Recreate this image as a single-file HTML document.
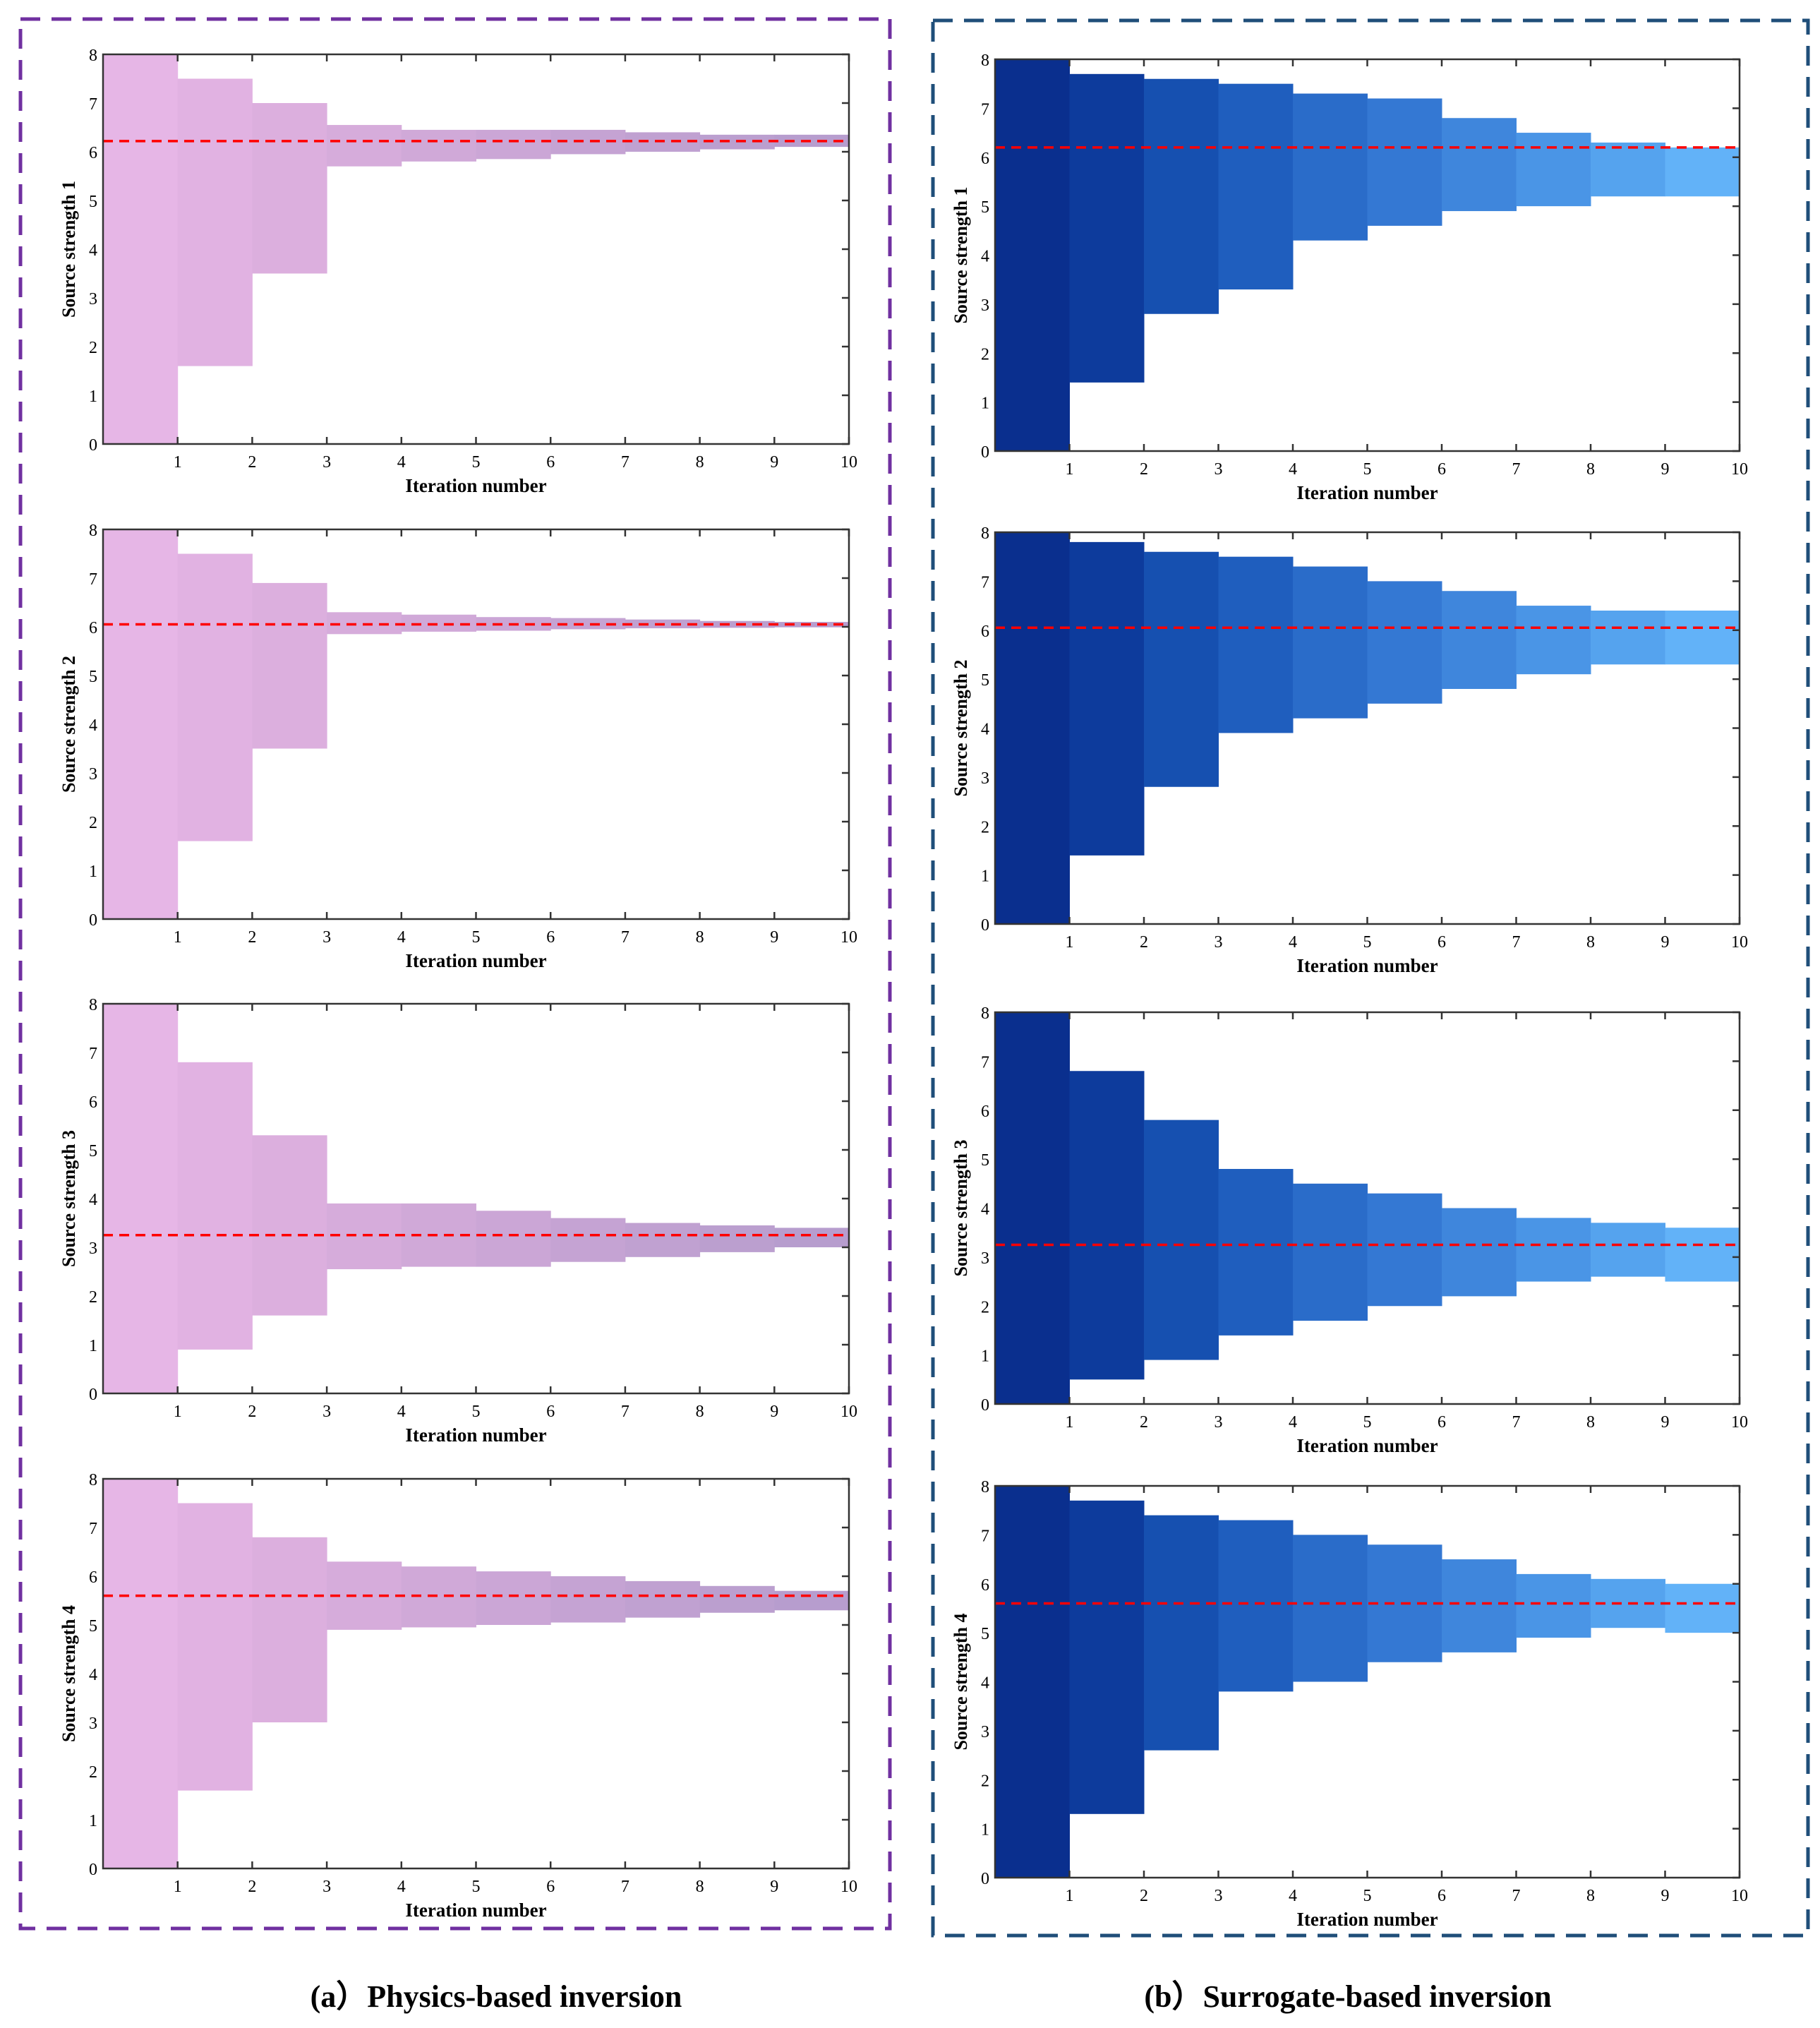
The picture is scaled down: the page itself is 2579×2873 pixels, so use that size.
<!DOCTYPE html>
<html><head><meta charset="utf-8"><style>
html,body{margin:0;padding:0;background:#fff;}
svg{display:block;font-family:"Liberation Serif",serif;}
</style></head><body>
<svg id="fig" width="2579" height="2873" viewBox="0 0 2579 2873" xmlns="http://www.w3.org/2000/svg">
<rect x="29" y="27" width="1232" height="2705" fill="none" stroke="#7030a0" stroke-width="5" stroke-dasharray="28,16"/>
<rect x="1322" y="29" width="1240" height="2713" fill="none" stroke="#1f4e79" stroke-width="5" stroke-dasharray="28,16"/>
<text x="703" y="2843" text-anchor="middle" font-size="44" font-weight="bold">(a）Physics-based inversion</text>
<text x="1910" y="2843" text-anchor="middle" font-size="44" font-weight="bold">(b）Surrogate-based inversion</text>
</svg>
<script>
// iteration categories (segment start values)
const iterations = [0,1,2,3,4,5,6,7,8,9];
const xTicks = [1,2,3,4,5,6,7,8,9,10];
const yTicks = [0,1,2,3,4,5,6,7,8];
// physics-based: lower / upper envelopes per iteration
const physLo1 = [0,1.6,3.5,5.7,5.8,5.85,5.95,6.0,6.05,6.1];
const physHi1 = [8,7.5,7.0,6.55,6.45,6.45,6.45,6.4,6.35,6.35];
const physLo2 = [0,1.6,3.5,5.85,5.9,5.92,5.95,5.97,5.98,5.99];
const physHi2 = [8,7.5,6.9,6.3,6.25,6.2,6.18,6.15,6.12,6.1];
const physLo3 = [0,0.9,1.6,2.55,2.6,2.6,2.7,2.8,2.9,3.0];
const physHi3 = [8,6.8,5.3,3.9,3.9,3.75,3.6,3.5,3.45,3.4];
const physLo4 = [0,1.6,3.0,4.9,4.95,5.0,5.05,5.15,5.25,5.3];
const physHi4 = [8,7.5,6.8,6.3,6.2,6.1,6.0,5.9,5.8,5.7];
const physTrue = [6.22,6.05,3.25,5.6];
// surrogate-based
const surLo1 = [0,1.4,2.8,3.3,4.3,4.6,4.9,5.0,5.2,5.2];
const surHi1 = [8,7.7,7.6,7.5,7.3,7.2,6.8,6.5,6.3,6.2];
const surLo2 = [0,1.4,2.8,3.9,4.2,4.5,4.8,5.1,5.3,5.3];
const surHi2 = [8,7.8,7.6,7.5,7.3,7.0,6.8,6.5,6.4,6.4];
const surLo3 = [0,0.5,0.9,1.4,1.7,2.0,2.2,2.5,2.6,2.5];
const surHi3 = [8,6.8,5.8,4.8,4.5,4.3,4.0,3.8,3.7,3.6];
const surLo4 = [0,1.3,2.6,3.8,4.0,4.4,4.6,4.9,5.1,5.0];
const surHi4 = [8,7.7,7.4,7.3,7.0,6.8,6.5,6.2,6.1,6.0];
const surTrue = [6.2,6.05,3.25,5.6];

const physColors = ['#e6b6e6','#e1b2e2','#dcafde','#d6acdb','#d0a9d8','#cba6d6','#c5a3d3','#c0a1d1','#bb9fcf','#b79dce'];
const surColors = ['#0a2f8e','#0d3b9c','#1650b0','#1f5ebe','#2a6cc9','#3478d3','#3f86dc','#4a95e6','#55a3ee','#62b2f8'];

const NS='http://www.w3.org/2000/svg';
const svg=document.getElementById('fig');
function mk(tag,attrs,parent){const e=document.createElementNS(NS,tag);for(const k in attrs)e.setAttribute(k,attrs[k]);(parent||svg).appendChild(e);return e;}

const panels=[
 {L:146,R:1203,tops:[77,750,1422,2095],h:552,lo:[physLo1,physLo2,physLo3,physLo4],hi:[physHi1,physHi2,physHi3,physHi4],tr:physTrue,col:physColors,name:'physics'},
 {L:1410,R:2465,tops:[84,754,1434,2105],h:555,lo:[surLo1,surLo2,surLo3,surLo4],hi:[surHi1,surHi2,surHi3,surHi4],tr:surTrue,col:surColors,name:'surrogate'}
];
panels.forEach(p=>{
 p.tops.forEach((T,k)=>{
  const B=T+p.h;
  const xs=v=>p.L+(p.R-p.L)*v/10;
  const ys=v=>B-(B-T)*v/8;
  const g=mk('g',{});
  
  
  iterations.forEach((it,i)=>{
   const r=mk('rect',{x:xs(it),y:ys(p.hi[k][i]),width:xs(it+1)-xs(it)+0.5,height:ys(p.lo[k][i])-ys(p.hi[k][i]),fill:p.col[i]},g);
   
   
  });
  const ln=mk('line',{x1:p.L,x2:p.R,y1:ys(p.tr[k]),y2:ys(p.tr[k]),stroke:'#ff0000','stroke-width':3.5,'stroke-dasharray':'14,9'},g);
  
  
  const ax=mk('rect',{x:p.L,y:T,width:p.R-p.L,height:B-T,fill:'none',stroke:'#333','stroke-width':2.5},g);
  
  
  xTicks.forEach(v=>{
   mk('line',{x1:xs(v),x2:xs(v),y1:B,y2:B-10,stroke:'#333','stroke-width':2.5},g);
   mk('line',{x1:xs(v),x2:xs(v),y1:T,y2:T+10,stroke:'#333','stroke-width':2.5},g);
   const t=mk('text',{x:xs(v),y:B+33,'text-anchor':'middle','font-size':24},g);
   t.textContent=v;
   
   
  });
  yTicks.forEach(v=>{
   mk('line',{x1:p.R,x2:p.R-10,y1:ys(v),y2:ys(v),stroke:'#333','stroke-width':2.5},g);
   const t=mk('text',{x:p.L-8,y:ys(v)+9,'text-anchor':'end','font-size':24},g);
   t.textContent=v;
   
   
  });
  const xl=mk('text',{x:(p.L+p.R)/2,y:B+68,'text-anchor':'middle','font-size':27,'font-weight':'bold'},g);
  xl.textContent='Iteration number';
  
  
  const cy=(T+B)/2, cx=p.L-40;
  const yl=mk('text',{x:cx,y:cy,'text-anchor':'middle','font-size':26,'font-weight':'bold',transform:'rotate(-90 '+cx+' '+cy+')'},g);
  yl.textContent='Source strength '+(k+1);
  
  
 });
});
</script>
</body></html>
